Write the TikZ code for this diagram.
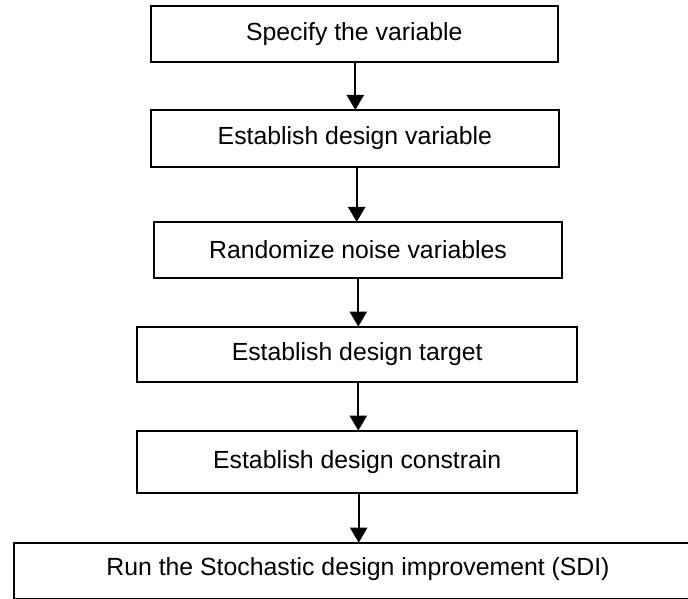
\documentclass[tikz,border=0pt]{standalone}
\usepackage{fontspec}
\setmainfont{Liberation Sans}
\usetikzlibrary{arrows.meta}
\begin{document}
\begin{tikzpicture}[x=0.5pt,y=-0.5pt,
  stepbox/.style={draw=black,line width=1pt,inner sep=0pt,outer sep=0pt,fill=white,
    font=\fontsize{12.4pt}{14pt}\selectfont},
  steptext/.style={inner sep=0pt,font=\fontsize{12.4pt}{14pt}\selectfont},
  arr/.style={line width=1pt,-{Triangle[width=8.5pt,length=7.5pt]}}]
\useasboundingbox (0,0) rectangle (688,598);
\node[stepbox,minimum width=203.7pt,minimum height=28pt] (b1) at (354.3,34) {Specify the variable};
\node[stepbox,minimum width=204.2pt,minimum height=28.3pt] (b2) at (354.9,138.3) {Establish design variable};
\node[stepbox,minimum width=204pt,minimum height=28pt] (b3) at (358,250) {Randomize noise variables};
\node[stepbox,minimum width=219.8pt,minimum height=27.5pt] (b4) at (357.2,354.2) {Establish design target};
\node[stepbox,minimum width=219.8pt,minimum height=31pt] (b5) at (357.2,461.7) {Establish design constrain};
\node[stepbox,anchor=north west,minimum width=370pt,minimum height=27.9pt] (b6) at (14,542.7) {};
\node[steptext] (b6t) at (358,569.5) {Run the Stochastic design improvement (SDI)};
\draw[arr] (355.3,0 |- b1.south) -- (355.3,0 |- b2.north);
\draw[arr] (356.7,0 |- b2.south) -- (356.7,0 |- b3.north);
\draw[arr] (358.3,0 |- b3.south) -- (358.3,0 |- b4.north);
\draw[arr] (358.3,0 |- b4.south) -- (358.3,0 |- b5.north);
\draw[arr] (358.7,0 |- b5.south) -- (358.7,0 |- b6.north);
\end{tikzpicture}
\end{document}
